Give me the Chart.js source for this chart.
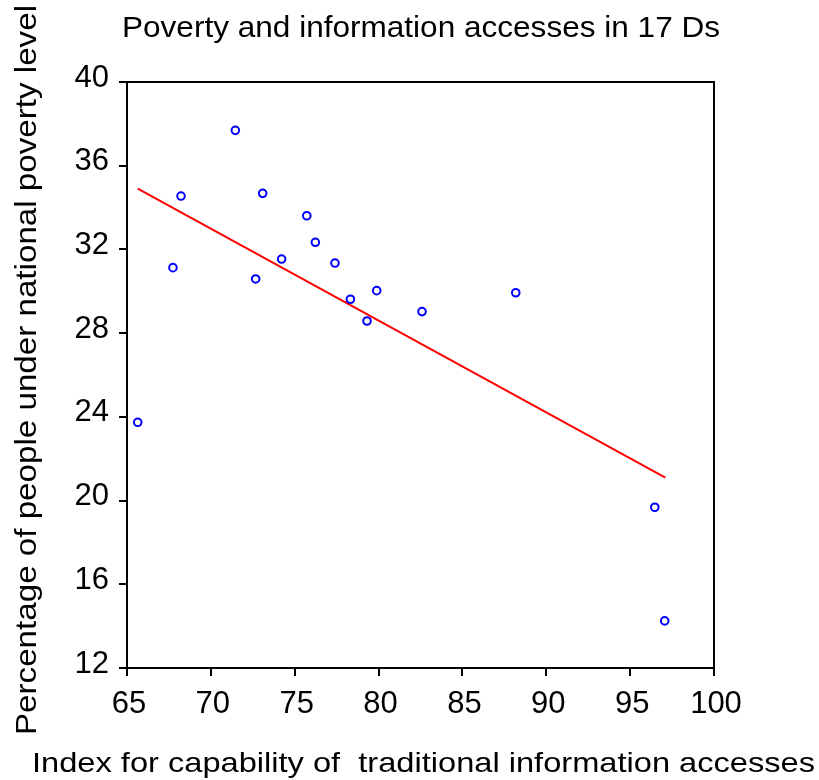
<!DOCTYPE html>
<html>
<head>
<meta charset="utf-8">
<script src="https://cdn.jsdelivr.net/npm/chart.js@4/dist/chart.umd.min.js"></script>
<style>
  html, body { margin: 0; padding: 0; background: #fff; }
</style>
</head>
<body>
<canvas id="myChart" width="819" height="780"></canvas>
<script>
// index for capability of traditional information accesses (x) vs poverty % (y)
const accessIndex = [65.64, 67.74, 68.22, 71.46, 72.67, 73.09, 74.22, 75.72, 76.23,
                     77.40, 78.32, 79.31, 79.89, 82.59, 88.18, 96.47, 97.06];
const povertyRate = [23.74, 31.13, 34.55, 37.69, 30.59, 34.68, 31.54, 33.61, 32.34,
                     31.35, 29.62, 28.58, 30.03, 29.03, 29.93, 19.68, 14.25];

// fitted line, end points
const fitX = [65.64, 97.1];
const fitY = [34.9, 21.1];

const xTicks = [65, 70, 75, 80, 85, 90, 95, 100];
const yTicks = [12, 16, 20, 24, 28, 32, 36, 40];

const chartTitle = "Poverty and information accesses in 17 Ds";
const xTitle = "Index for capability of  traditional information accesses";
const yTitle = "Percentage of people under national poverty level";

const FONT = "'Liberation Sans', Arial, sans-serif";

const points = accessIndex.map((x, i) => ({ x: x, y: povertyRate[i] }));
const fitLine = fitX.map((x, i) => ({ x: x, y: fitY[i] }));

// text squeezed/stretched to a given width, centred on (cx, cy baseline)
function drawFitted(ctx, text, size, cx, baseY, width, angle) {
	ctx.save();
	ctx.font = size + "px " + FONT;
	const w = ctx.measureText(text).width;
	ctx.translate(cx, baseY);
	ctx.rotate(angle || 0);
	ctx.scale(width / w, 1);
	ctx.textAlign = 'center';
	ctx.textBaseline = 'alphabetic';
	ctx.fillStyle = '#000';
	ctx.fillText(text, 0, 0);
	ctx.restore();
}

// frame round the plot plus the three titles
const framePlugin = {
	id: 'frame',
	afterDraw(chart) {
		const { ctx, chartArea: a } = chart;
		ctx.save();
		ctx.strokeStyle = '#000';
		ctx.lineWidth = 2;
		ctx.strokeRect(a.left, a.top, a.right - a.left, a.bottom - a.top);
		ctx.restore();
		drawFitted(ctx, chartTitle, 30, 421, 36.5, 598);
		drawFitted(ctx, xTitle, 28, 423.5, 772, 783);
		// rotated: baseline sits on the right side of the glyphs
		drawFitted(ctx, yTitle, 30, 36, 370, 730, -Math.PI / 2);
	}
};

const ctx = document.getElementById('myChart').getContext('2d');
new Chart(ctx, {
	type: 'scatter',
	data: {
		datasets: [{
			type: 'line',
			data: fitLine,
			borderColor: '#ff0000',
			borderWidth: 2,
			pointRadius: 0,
			fill: false,
			order: 2
		}, {
			data: points,
			borderColor: '#0000ff',
			backgroundColor: 'rgba(0,0,0,0)',
			borderWidth: 2,
			pointRadius: 3.8,
			pointStyle: 'circle',
			order: 1
		}]
	},
	options: {
		responsive: false,
		animation: false,
		layout: { padding: { top: 82, right: 105, left: 0, bottom: 0 } },
		plugins: {
			legend: { display: false },
			tooltip: { enabled: false }
		},
		scales: {
			x: {
				type: 'linear',
				min: 65,
				max: 100,
				afterFit(scale) { scale.height = 112; },
				afterBuildTicks(scale) { scale.ticks = xTicks.map(v => ({ value: v })); },
				ticks: { color: '#000', font: { family: FONT, size: 31 }, padding: 10, maxRotation: 0, labelOffset: 2 },
				grid: { drawOnChartArea: false, tickLength: 8, color: '#000', lineWidth: 2 },
				border: { display: false },
				title: { display: false }
			},
			y: {
				type: 'linear',
				min: 12,
				max: 40,
				afterFit(scale) { scale.width = 127; },
				afterBuildTicks(scale) { scale.ticks = yTicks.map(v => ({ value: v })); },
				ticks: { color: '#000', font: { family: FONT, size: 31 }, padding: 10, labelOffset: -4 },
				grid: { drawOnChartArea: false, tickLength: 8, color: '#000', lineWidth: 2 },
				border: { display: false },
				title: { display: false }
			}
		}
	},
	plugins: [framePlugin]
});
</script>
</body>
</html>
